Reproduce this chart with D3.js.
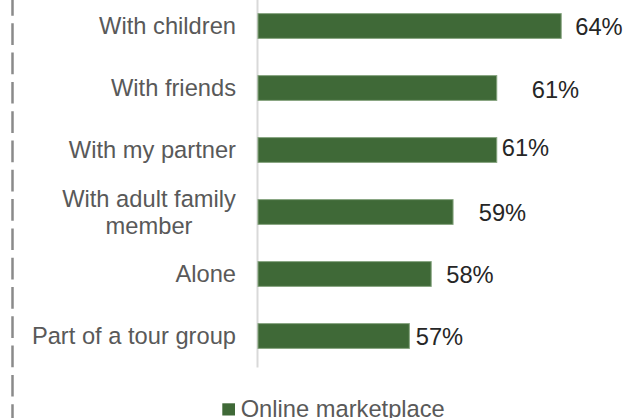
<!DOCTYPE html>
<html>
<head>
<meta charset="utf-8">
<script src="https://cdn.jsdelivr.net/npm/d3@7"></script>
<style>
  body { margin: 0; background: #fff; }
  svg { display: block; font-family: Arial, "Liberation Sans", sans-serif; }
</style>
</head>
<body>
<svg id="chart"></svg>
<script>
const width = 628;
const height = 418;

// data
const categories = ["With children", "With friends", "With my partner",
    "With adult family\nmember", "Alone", "Part of a tour group"];
const values = [63.9, 60.95, 60.95, 58.95, 57.95, 56.95];
const valueLabels = ["64%", "61%", "61%", "59%", "58%", "57%"];
const seriesName = "Online marketplace";

// label nudges (manually placed in the original)
const labelDx = [14, 35, 5, 25.7, 15, 6.4];
const labelDy = [1, 2, -2, 0.5, 1, 0.7];

const fontSize = 23.7;
const barColor = "#3f6937";

const svg = d3.select("#chart")
    .attr("width", width)
    .attr("height", height);

const xScale = d3.scaleLinear()
    .domain([50, 65])
    .range([257.5, 257.5 + 15 * 21.85]);

const yScale = d3.scaleBand()
    .domain(categories)
    .range([-5, 367])
    .paddingInner(0.6)
    .paddingOuter(0.3);

// outer dashed border on the left
svg.append("line")
    .attr("x1", 12.5).attr("x2", 12.5)
    .attr("y1", 0).attr("y2", height)
    .attr("stroke", "#8a8a8a")
    .attr("stroke-width", 2.5)
    .attr("stroke-dasharray", "21.7,7.6")
    .attr("stroke-dashoffset", 6);

// category axis line
const yAxis = d3.axisLeft(yScale).tickSize(0).tickFormat("");
const axisG = svg.append("g")
    .attr("transform", `translate(${xScale(50) - 0.5},0)`)
    .call(yAxis);
axisG.select(".domain").attr("stroke", "#d9d9d9").attr("stroke-width", 2);

const rows = categories.map((c, i) => ({ cat: c, value: values[i], label: valueLabels[i], i }));

// bars
svg.append("g")
    .selectAll("rect")
    .data(rows)
    .join("rect")
    .attr("x", xScale(50) + 0.5)
    .attr("y", d => yScale(d.cat))
    .attr("width", d => xScale(d.value) - xScale(50) - 0.5)
    .attr("height", yScale.bandwidth())
    .attr("fill", barColor)
    .attr("stroke", "#86a47f")
    .attr("stroke-width", 1);

// value labels
svg.append("g")
    .selectAll("text")
    .data(rows)
    .join("text")
    .attr("x", d => xScale(d.value) + labelDx[d.i])
    .attr("y", d => yScale(d.cat) + yScale.bandwidth() / 2 + labelDy[d.i] + fontSize * 0.35)
    .attr("font-size", fontSize)
    .attr("fill", "#262626")
    .text(d => d.label);

// category labels
const labelRight = 236;
const lineHeight = 27;
const catG = svg.append("g");
rows.forEach(d => {
    const lines = d.cat.split("\n");
    const cy = yScale(d.cat) + yScale.bandwidth() / 2;
    const t = catG.append("text")
        .attr("font-size", fontSize)
        .attr("fill", "#595959");
    if (lines.length === 1) {
        t.attr("text-anchor", "end")
            .attr("x", labelRight)
            .attr("y", cy + fontSize * 0.35)
            .text(lines[0]);
    } else {
        // centred block, right edge at labelRight
        t.attr("text-anchor", "middle");
        lines.forEach((ln, k) => {
            t.append("tspan")
                .attr("x", 0)
                .attr("y", cy + fontSize * 0.35 + (k - (lines.length - 1) / 2) * lineHeight)
                .text(ln);
        });
        const w = t.node().getBBox().width;
        t.selectAll("tspan").attr("x", labelRight - w / 2);
    }
});

// legend
const legend = svg.append("g");
legend.append("rect")
    .attr("x", 222.3).attr("y", 403.3)
    .attr("width", 12.7).attr("height", 12.2)
    .attr("fill", barColor);
legend.append("text")
    .attr("x", 240.7).attr("y", 416.5)
    .attr("font-size", fontSize)
    .attr("fill", "#595959")
    .text(seriesName);
</script>
</body>
</html>
